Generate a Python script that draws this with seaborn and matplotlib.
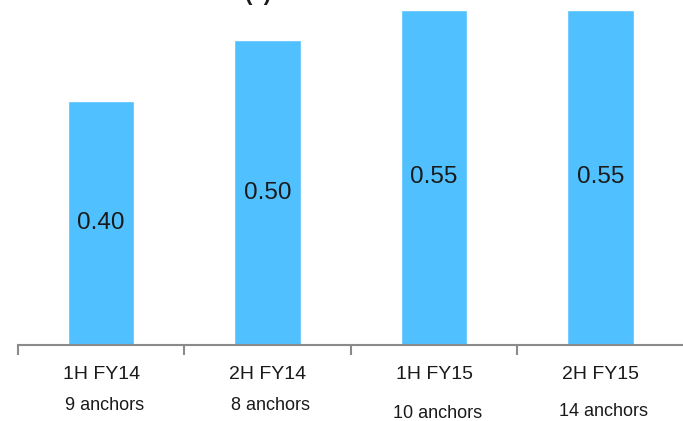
import matplotlib
matplotlib.use("Agg")
import matplotlib.pyplot as plt
import matplotlib.transforms as mtransforms
from matplotlib import font_manager
import seaborn as sns
import pandas as pd

periods = ["1H FY14", "2H FY14", "1H FY15", "2H FY15"]
ratios = [0.40, 0.50, 0.55, 0.55]
anchor_notes = ["9 anchors", "8 anchors", "10 anchors", "14 anchors"]
anchor_drop_px = [406, 406, 413, 411]

sns.set_style("white")

# prefer a narrow sans face when one is available
installed = {f.name for f in font_manager.fontManager.ttflist}
narrow = [n for n in ["Liberation Sans Narrow", "Arial Narrow",
                      "DejaVu Sans Condensed"] if n in installed]
face = narrow[0] if narrow else "Liberation Sans"
plt.rcParams["font.family"] = [face, "DejaVu Sans"]

df = pd.DataFrame({"period": periods, "ratio": ratios})

fig = plt.figure(figsize=(6.83, 4.21), dpi=100)
ax = fig.add_axes([18 / 683, 76 / 421, 669 / 683, 345 / 421])

sns.barplot(data=df, x="period", y="ratio", color="#50C0FF", saturation=1,
            width=0.4, ax=ax)

ax.set_ylim(0, 0.566)
ax.set_xlim(-0.5, 3.52)
ax.set_xlabel("")
ax.set_ylabel("")
ax.set_yticks([])

for s in ["top", "right", "left"]:
    ax.spines[s].set_visible(False)
ax.spines["bottom"].set_color("#8a8a8a")
ax.spines["bottom"].set_linewidth(1.5)

ax.set_xticks(range(len(periods)))
ax.set_xticklabels(periods, fontsize=14, color="#1a1a1a")
ax.tick_params(axis="x", which="major", length=0, pad=15)
ax.set_xticks([-0.5, 0.5, 1.5, 2.5], minor=True)
ax.tick_params(axis="x", which="minor", length=7, width=1.5,
               color="#8a8a8a", direction="out", bottom=True)

for i, v in enumerate(ratios):
    ax.text(i, v / 2, f"{v:.2f}", ha="center", va="center",
            fontsize=17.5, color="#1a1a1a")

trans = mtransforms.blended_transform_factory(ax.transData, fig.transFigure)
for i, (note, ypx) in enumerate(zip(anchor_notes, anchor_drop_px)):
    ax.text(i + 0.02, 1 - ypx / 421, note, transform=trans, ha="center",
            va="center", fontsize=13, color="#1a1a1a", clip_on=False)

fig.text(258 / 683, 1.014, "(x)", ha="center", va="center",
         fontsize=16, fontweight="bold", color="#1a1a1a")

fig.savefig("out.png", dpi=100)
